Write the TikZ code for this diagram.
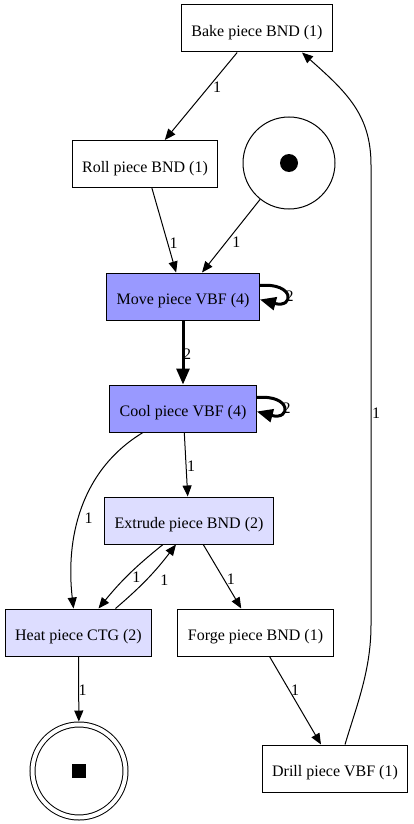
\documentclass[tikz,border=0pt]{standalone}
\usepackage{fontspec}
\setmainfont{Liberation Serif}
\usepackage{tikz}
\usetikzlibrary{arrows.meta}
\definecolor{busy}{HTML}{9999FF}
\definecolor{waiting}{HTML}{DDDDFF}

\begin{document}
\begin{tikzpicture}[
  x=1pt,y=-1pt,
  >={Triangle[length=11pt,width=9pt]},
  trans/.style={draw,line width=1pt,fill=white,minimum height=47pt,
                inner xsep=10pt,text height=16pt,text depth=0pt,
                font=\fontsize{16}{18}\selectfont},
  place/.style={draw,line width=1pt,circle,minimum size=92pt,inner sep=0pt},
  arc/.style={->,line width=1pt},
  heavy/.style={line width=3pt,-{Triangle[length=16pt,width=13pt]}},
  lbl/.style={font=\fontsize{16}{18}\selectfont,inner sep=1.5pt}
]
\useasboundingbox (0,0) rectangle (413,824);

\node[trans] (bake) at (257,28.5) {Bake piece BND (1)};
\node[trans] (roll) at (145,164) {Roll piece BND (1)};
\node[place] (start) at (289,163) {};
\node[circle,fill,minimum size=18pt,inner sep=0pt] (token) at (start) {};
\node[trans,fill=busy] (move) at (183,296.5) {Move piece VBF (4)};
\node[trans,fill=busy] (cool) at (183,408.5) {Cool piece VBF (4)};
\node[trans,fill=waiting] (extrude) at (189,520.5) {Extrude piece BND (2)};
\node[trans,fill=waiting] (heat) at (78.5,632.5) {Heat piece CTG (2)};
\node[trans] (forge) at (255.5,632.5) {Forge piece BND (1)};
\node[trans] (drill) at (335,768.5) {Drill piece VBF (1)};
\node[place,minimum size=93pt,double,double distance=4pt,outer sep=3pt] (end) at (79,771) {};
\node[fill,minimum size=14pt,inner sep=0pt] (endmark) at (end) {};

\coordinate (riseA) at (371,625);
\coordinate (riseB) at (371,165);

\draw[arc] (bake) -- node[lbl,pos=0.4,right=3pt] {1} (roll);
\draw[arc] (roll) -- node[lbl,pos=0.65,right=0pt] {1} (move);
\draw[arc] (start) -- node[lbl,pos=0.58,right=4pt] {1} (move);
\draw[heavy] ([yshift=11pt]move.east) to[out=5,in=-15,looseness=6.5]
  node[lbl,pos=0.55,right=-3pt] {2} ([yshift=-3pt]move.east);
\draw[heavy] (move) -- node[lbl,pos=0.52,right=-3pt] {2} (cool);
\draw[heavy] ([yshift=11pt]cool.east) to[out=5,in=-15,looseness=6.5]
  node[lbl,pos=0.55,right=-3pt] {2} ([yshift=-3pt]cool.east);
\draw[arc] (cool) -- node[lbl,pos=0.52,right=-1pt] {1} (extrude);
\draw[arc] ([xshift=-40pt]cool.south) .. controls +(-63,38) and +(-8,-69) ..
  node[lbl,pos=0.55,right=4pt] {1} ([xshift=-5pt]heat.north);
\draw[arc] ([xshift=-26pt]extrude.south) to[bend right=6]
  node[lbl,pos=0.54,right=4pt] {1} ([xshift=20pt]heat.north);
\draw[arc] ([xshift=37pt]heat.north) to[bend right=6]
  node[lbl,pos=0.46,right=13pt] {1} ([xshift=-13pt]extrude.south);
\draw[arc] (extrude) -- node[lbl,pos=0.54,right=1pt] {1} (forge);
\draw[arc] (heat) -- node[lbl,pos=0.52,right=-2pt] {1} (end);
\draw[arc] (forge) -- node[lbl,pos=0.38,right=0pt] {1} (drill);
\draw[arc] ([xshift=10pt]drill.north) .. controls +(12,-40) and +(0,45) .. (riseA)
  -- node[lbl,pos=0.46,right=-1pt] {1} (riseB)
  .. controls +(0,-50) and +(45,40) .. ([xshift=45pt]bake.south);
\end{tikzpicture}
\end{document}
